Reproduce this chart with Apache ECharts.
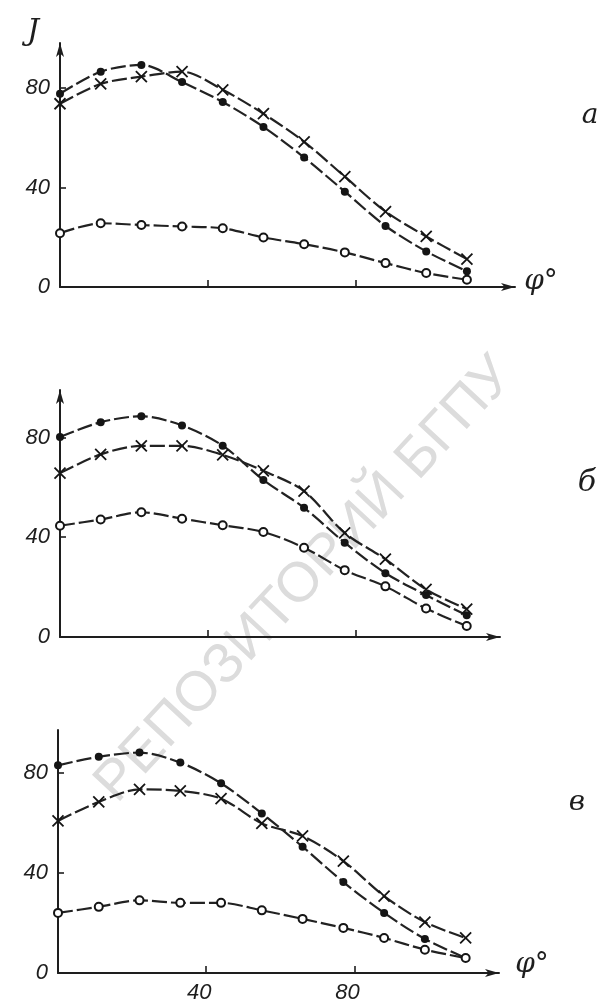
<!DOCTYPE html>
<html><head><meta charset="utf-8">
<script src="https://cdn.jsdelivr.net/npm/echarts@6/dist/echarts.min.js"></script>
<style>html,body{margin:0;padding:0;background:#fff}#c{width:607px;height:1007px}</style>
</head><body><div id="c"></div>
<script>
// angle φ° of each measured point
const phi = [0, 11, 22, 33, 44, 55, 66, 77, 88, 99, 110];
// panel а
const aDots  = [77.6, 86.5, 89.2, 82.3, 74.3, 64.3, 52.0, 38.3, 24.5, 14.3, 6.3];
const aCross = [73.6, 81.6, 84.5, 86.5, 79.2, 69.6, 58.3, 44.3, 30.3, 20.3, 11.2];
const aCirc  = [21.6, 25.6, 24.9, 24.3, 23.6, 19.9, 17.2, 13.9, 9.6, 5.6, 2.9];
// panel б
const bDots  = [80.2, 86.1, 88.5, 84.8, 76.7, 62.9, 51.8, 37.8, 25.6, 16.8, 8.7];
const bCross = [65.7, 73.2, 76.6, 76.6, 73.0, 66.6, 58.5, 41.7, 31.2, 19.1, 11.2];
const bCirc  = [44.6, 47.1, 50.0, 47.4, 44.8, 42.1, 35.8, 26.8, 20.3, 11.4, 4.4];
// panel в
const vDots  = [82.9, 86.3, 88.0, 84.0, 75.7, 63.7, 50.4, 36.3, 24.0, 13.6, 6.0];
const vCross = [60.7, 68.3, 73.3, 72.7, 69.6, 59.7, 54.7, 44.7, 30.7, 20.3, 14.0];
const vCirc  = [24.0, 26.4, 29.0, 28.0, 28.0, 25.0, 21.6, 18.0, 14.0, 9.3, 6.0];
// tick labels
const yTicks = [0, 40, 80];
const xTicks = [40, 80];
const panelLetters = ['а', 'б', 'в'];
const yName = 'J';
const xName = 'φ°';
const watermark = 'РЕПОЗИТОРИЙ БГПУ';

const INK = '#1e1e1e';
const panels = [
  {dots: aDots, cross: aCross, circ: aCirc, left: 60, top: 43, width: 455, height: 244, xMax: 123, yMax: 98, xLabels: false, yArrow: true},
  {dots: bDots, cross: bCross, circ: bCirc, left: 60, top: 390, width: 440, height: 247, xMax: 119, yMax: 99, xLabels: false, yArrow: true},
  {dots: vDots, cross: vCross, circ: vCirc, left: 58, top: 730, width: 441, height: 243, xMax: 119, yMax: 97, xLabels: true, yArrow: false}
];

const grid = [], xAxis = [], yAxis = [], series = [];
const labelFont = '"Liberation Sans Narrow", "Liberation Sans", sans-serif';

panels.forEach((p, i) => {
  grid.push({left: p.left, top: p.top, width: p.width, height: p.height, containLabel: false, outerBoundsMode: 'none'});
  xAxis.push({
    type: 'value', gridIndex: i, min: 0, max: p.xMax,
    splitLine: {show: false},
    axisLine: {show: true, onZero: false, symbol: ['none', 'arrow'], symbolSize: [6, 14], lineStyle: {color: INK, width: 2}},
    axisTick: {show: true, inside: true, length: 7, customValues: xTicks, lineStyle: {color: INK, width: 1.6}},
    axisLabel: {show: p.xLabels, customValues: xTicks, margin: 9, fontSize: 22, fontStyle: 'italic', fontFamily: labelFont, color: INK, padding: [0, 14, 0, 0]}
  });
  yAxis.push({
    type: 'value', gridIndex: i, min: 0, max: p.yMax,
    splitLine: {show: false},
    axisLine: {show: true, onZero: false, symbol: p.yArrow ? ['none', 'arrow'] : ['none', 'none'], symbolSize: [6, 14], lineStyle: {color: INK, width: 2}},
    axisTick: {show: true, inside: true, length: 6, customValues: [40, 80], lineStyle: {color: INK, width: 1.6}},
    axisLabel: {show: true, customValues: yTicks, margin: 10, fontSize: 22, fontStyle: 'italic', fontFamily: labelFont, color: INK, padding: [8, 0, 0, 0]}
  });
  const line = {color: '#222', width: 2.2, type: [15, 4]};
  const common = {type: 'line', xAxisIndex: i, yAxisIndex: i, smooth: 0.3, showAllSymbol: true, lineStyle: line, animation: false, silent: true};
  series.push(Object.assign({}, common, {
    data: phi.map((x, k) => [x, p.dots[k]]), symbol: 'circle', symbolSize: 8, itemStyle: {color: '#151515'}, z: 3
  }));
  series.push(Object.assign({}, common, {
    data: phi.map((x, k) => [x, p.cross[k]]), symbol: 'path://M0,0L10,10M10,0L0,10', symbolSize: 11,
    itemStyle: {color: 'none', borderColor: '#151515', borderWidth: 1.8}, z: 3
  }));
  series.push(Object.assign({}, common, {
    data: phi.map((x, k) => [x, p.circ[k]]), symbol: 'emptyCircle', symbolSize: 8,
    itemStyle: {color: '#151515', borderWidth: 1.6}, z: 3
  }));
});

const serif = '"DejaVu Serif", "Liberation Serif", serif';
const graphic = [
  {type: 'text', x: 305, y: 580, rotation: 47 * Math.PI / 180, z: -1,
    style: {text: watermark, font: '56px "Liberation Sans", sans-serif', fill: '#dcdcdc', align: 'center', verticalAlign: 'middle'}},
  {type: 'text', x: 33, y: 32, style: {text: yName, font: 'italic 30px ' + serif, fill: INK, align: 'center', verticalAlign: 'middle'}},
  {type: 'text', x: 541, y: 282, style: {text: xName, font: 'italic 28px ' + serif, fill: INK, align: 'center', verticalAlign: 'middle'}},
  {type: 'text', x: 532, y: 965, style: {text: xName, font: 'italic 28px ' + serif, fill: INK, align: 'center', verticalAlign: 'middle'}},
  {type: 'text', x: 590, y: 116, style: {text: panelLetters[0], font: 'italic 28px ' + serif, fill: INK, align: 'center', verticalAlign: 'middle'}},
  {type: 'text', x: 587, y: 483, style: {text: panelLetters[1], font: 'italic 30px ' + serif, fill: INK, align: 'center', verticalAlign: 'middle'}},
  {type: 'text', x: 577, y: 803, style: {text: panelLetters[2], font: 'italic 28px ' + serif, fill: INK, align: 'center', verticalAlign: 'middle'}}
];

const chart = echarts.init(document.getElementById('c'), null, {renderer: 'canvas'});
chart.setOption({backgroundColor: '#ffffff', animation: false, grid, xAxis, yAxis, series, graphic});
</script></body></html>
